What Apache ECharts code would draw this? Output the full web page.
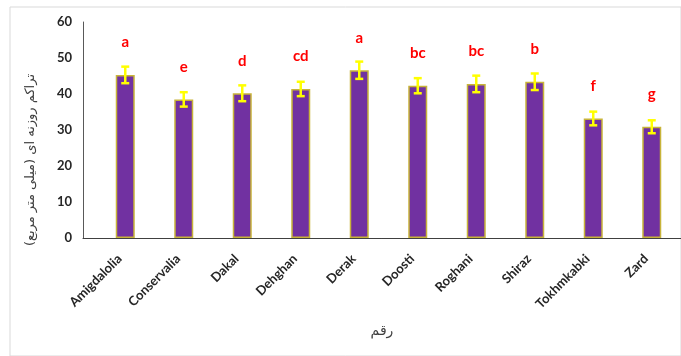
<!DOCTYPE html>
<html>
<head>
<meta charset="utf-8">
<script src="https://cdn.jsdelivr.net/npm/echarts@6/dist/echarts.min.js"></script>
<style>
  html, body { margin: 0; padding: 0; background: #fff; }
  #chart { width: 681px; height: 356px; }
</style>
</head>
<body>
<div id="chart"></div>
<script>
var cultivars = ['Amigdalolia', 'Conservalia', 'Dakal', 'Dehghan', 'Derak', 'Doosti', 'Roghani', 'Shiraz', 'Tokhmkabki', 'Zard'];
var density = [45.3, 38.5, 40.2, 41.4, 46.6, 42.3, 42.8, 43.4, 33.2, 30.9];
var stdErr = [2.3, 2.0, 2.2, 2.0, 2.4, 2.1, 2.3, 2.3, 1.9, 1.8];
var letters = ['a', 'e', 'd', 'cd', 'a', 'bc', 'bc', 'b', 'f', 'g'];
var yTicks = { min: 0, max: 60, interval: 10 };

var chart = echarts.init(document.getElementById('chart'));

var errData = [];
for (var i = 0; i < density.length; i++) {
  errData.push([i, density[i] - stdErr[i], density[i] + stdErr[i]]);
}

var option = {
  backgroundColor: '#fff',
  animation: false,
  grid: [
    // bars
    { left: 96, right: -10, top: 22, bottom: 118 },
    // visible axes
    { left: 83, right: 0, top: 22, bottom: 118 },
    // outer frame
    { left: 10, right: -5, top: 7, bottom: -5, show: true, borderColor: '#d9d9d9', borderWidth: 1 }
  ],
  xAxis: [
    {
      type: 'category',
      gridIndex: 0,
      data: cultivars,
      axisLine: { show: false },
      axisTick: { show: false },
      axisLabel: {
        rotate: 45,
        interval: 0,
        margin: 13,
        padding: [0, 8, 0, 0],
        color: '#262626',
        fontFamily: 'Lato',
        fontWeight: 'bold',
        fontSize: 13
      }
    },
    {
      type: 'category',
      gridIndex: 1,
      data: cultivars,
      axisLine: { lineStyle: { color: '#404040', width: 1 } },
      axisTick: { show: false },
      axisLabel: { show: false },
      name: 'رقم',
      nameLocation: 'middle',
      nameGap: 86,
      nameTextStyle: { color: '#404040', fontFamily: 'DejaVu Sans', fontSize: 14 }
    },
    { type: 'value', gridIndex: 2, show: false }
  ],
  yAxis: [
    {
      type: 'value',
      gridIndex: 0,
      min: yTicks.min,
      max: yTicks.max,
      interval: yTicks.interval,
      show: false
    },
    {
      type: 'value',
      gridIndex: 1,
      min: yTicks.min,
      max: yTicks.max,
      interval: yTicks.interval,
      splitLine: { show: false },
      axisTick: { show: false },
      axisLine: { show: true, lineStyle: { color: '#595959', width: 1 } },
      axisLabel: {
        margin: 11,
        color: '#262626',
        fontFamily: 'Lato',
        fontWeight: 'bold',
        fontSize: 13
      },
      name: 'تراکم روزنه ای (میلی متر مربع)',
      nameLocation: 'middle',
      nameRotate: 90,
      nameGap: 46,
      nameTextStyle: {
        color: '#404040',
        fontFamily: 'DejaVu Sans',
        fontSize: 13,
        padding: [0, 60, 0, 0]
      }
    },
    { type: 'value', gridIndex: 2, show: false }
  ],
  series: [
    {
      type: 'bar',
      xAxisIndex: 0,
      yAxisIndex: 0,
      data: density,
      barWidth: 19,
      itemStyle: {
        color: '#7131a1',
        borderColor: '#c8b43a',
        borderWidth: 1.5
      },
      label: {
        show: true,
        position: 'top',
        distance: 25,
        color: '#ff0000',
        fontFamily: 'Lato',
        fontWeight: 'bold',
        fontSize: 15,
        formatter: function (p) { return letters[p.dataIndex]; }
      },
      z: 2
    },
    {
      type: 'custom',
      xAxisIndex: 0,
      yAxisIndex: 0,
      data: errData,
      z: 3,
      renderItem: function (params, api) {
        var lo = api.coord([api.value(0), api.value(1)]);
        var hi = api.coord([api.value(0), api.value(2)]);
        var cap = 4;
        var st = { stroke: '#ffff00', lineWidth: 2.5 };
        return {
          type: 'group',
          children: [
            { type: 'line', shape: { x1: lo[0], y1: lo[1], x2: hi[0], y2: hi[1] }, style: st },
            { type: 'line', shape: { x1: hi[0] - cap, y1: hi[1], x2: hi[0] + cap, y2: hi[1] }, style: st },
            { type: 'line', shape: { x1: lo[0] - cap, y1: lo[1], x2: lo[0] + cap, y2: lo[1] }, style: st }
          ]
        };
      }
    }
  ]
};

chart.setOption(option);
</script>
</body>
</html>
